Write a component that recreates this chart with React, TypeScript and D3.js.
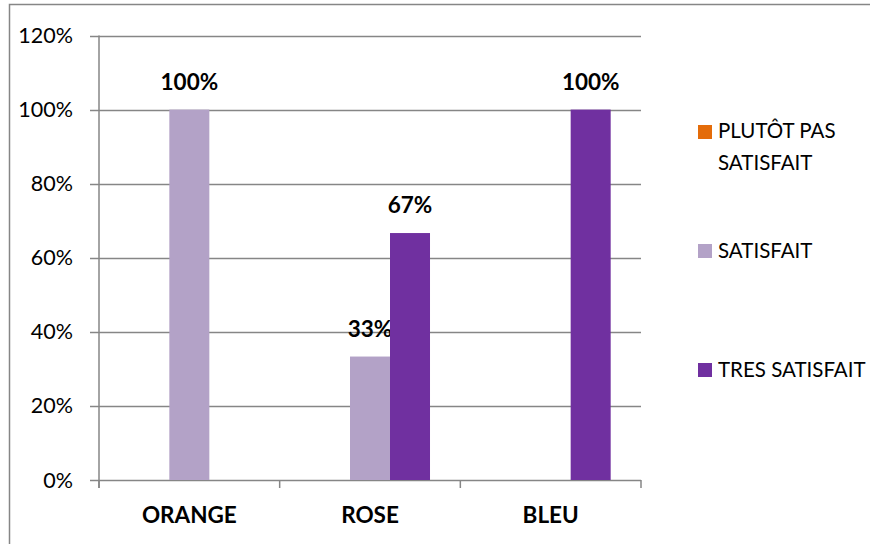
import React from "react";
import * as d3 from "d3";

const categories = ["ORANGE", "ROSE", "BLEU"];
const seriesNames = ["PLUTÔT PAS SATISFAIT", "SATISFAIT", "TRES SATISFAIT"];
const plutotPas = [0, 0, 0];
const satisfait = [1, 0.3333, 0];
const tresSatisfait = [0, 0.6667, 1];
const yTicks = [0, 0.2, 0.4, 0.6, 0.8, 1, 1.2];
const colors = ["#E46C0A", "#B3A2C7", "#7030A0"];

const W = 870;
const H = 544;
const FONT = "Lato, 'Open Sans', sans-serif";

export default function App() {
  const left = 99;
  const right = 641;
  const top = 35.5;
  const bottom = 480;
  const y = d3.scaleLinear().domain([0, 1.2]).range([bottom, top]);
  const x0 = d3.scaleBand<string>().domain(categories).range([left, right]).paddingInner(0).paddingOuter(0);
  const x1 = d3
    .scaleBand<string>()
    .domain(seriesNames)
    .range([0, x0.step()])
    .paddingInner(0)
    .paddingOuter(0.758);
  const data = [plutotPas, satisfait, tresSatisfait];
  const fmt = (v: number) => `${Math.round(v * 100)}%`;
  const boundaries = [...categories.map((c) => x0(c) as number), right];

  const legendItems = [
    { lines: ["PLUTÔT PAS", "SATISFAIT"], sw: 125, base: 138 },
    { lines: ["SATISFAIT"], sw: 244, base: 258 },
    { lines: ["TRES SATISFAIT"], sw: 363, base: 377 },
  ];

  return (
    <svg
      width={W}
      height={H}
      style={{ position: "absolute", left: 0, top: 0, background: "#fff" }}
      fontFamily={FONT}
    >
      <rect x={9.5} y={4.5} width={W + 20} height={H + 20} fill="#fff" stroke="#868686" strokeWidth={1.5} />
      {yTicks.map((t) => (
        <g key={t}>
          <line x1={90} x2={right} y1={Math.round(y(t)) + 0.5} y2={Math.round(y(t)) + 0.5} stroke="#868686" strokeWidth={1.5} />
          <text x={73} y={y(t) + 7.5} textAnchor="end" fontSize={21.5} fill="#000">
            {fmt(t)}
          </text>
        </g>
      ))}
      <line x1={left} x2={left} y1={top} y2={488} stroke="#868686" strokeWidth={1.5} />
      {boundaries.map((b, i) => (
        <line key={i} x1={b} x2={b} y1={bottom} y2={488} stroke="#868686" strokeWidth={1.5} />
      ))}
      {categories.map((c, ci) => (
        <g key={c}>
          {seriesNames.map((s, si) => {
            const v = data[si][ci];
            if (v <= 0) return null;
            const bx = (x0(c) as number) + (x1(s) as number);
            return (
              <g key={s}>
                <rect x={bx} y={y(v)} width={x1.bandwidth()} height={bottom - y(v)} fill={colors[si]} />
                <text
                  x={bx + x1.bandwidth() / 2}
                  y={y(v) - 20}
                  textAnchor="middle"
                  fontSize={22.5}
                  fontWeight="bold"
                  fill="#000"
                >
                  {fmt(v)}
                </text>
              </g>
            );
          })}
          <text
            x={(x0(c) as number) + x0.bandwidth() / 2}
            y={523}
            textAnchor="middle"
            fontSize={22.5}
            fontWeight="bold"
            fill="#000"
          >
            {c}
          </text>
        </g>
      ))}
      {legendItems.map((it, i) => (
        <g key={i}>
          <rect x={698} y={it.sw} width={14} height={14} fill={colors[i]} />
          {it.lines.map((ln, li) => (
            <text key={li} x={718} y={it.base + li * 32} fontSize={20.5} fill="#000">
              {ln}
            </text>
          ))}
        </g>
      ))}
    </svg>
  );
}
